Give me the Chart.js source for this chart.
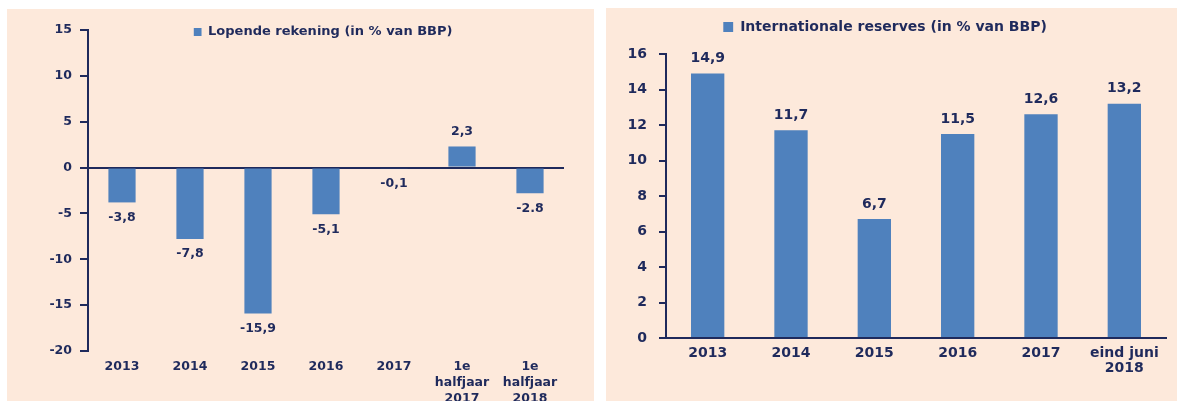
<!DOCTYPE html>
<html>
<head>
<meta charset="utf-8">
<script src="https://cdn.jsdelivr.net/npm/chart.js@4"></script>
<style>
  body { margin: 0; background: #fff; width: 1177px; height: 401px; overflow: hidden; position: relative; }
  .panel { position: absolute; background: #fde9db; }
  #paneelLinks { left: 7px; top: 9px; width: 587px; height: 392px; }
  #paneelRechts { left: 606px; top: 8px; width: 571px; height: 393px; }
</style>
</head>
<body>
<div class="panel" id="paneelLinks"><canvas id="lopende"></canvas></div>
<div class="panel" id="paneelRechts"><canvas id="reserves"></canvas></div>
<script>
// gegevens
const jarenLopende = ['2013', '2014', '2015', '2016', '2017', ['1e', 'halfjaar', '2017'], ['1e', 'halfjaar', '2018']];
const lopendeRekening = [-3.8, -7.8, -15.9, -5.1, -0.1, 2.3, -2.8];
const lopendeTeksten = ['-3,8', '-7,8', '-15,9', '-5,1', '-0,1', '2,3', '-2.8'];
const lopendeTicks = { min: -20, max: 15, stap: 5 };

const jarenReserves = ['2013', '2014', '2015', '2016', '2017', ['eind juni', '2018']];
const reserves = [14.9, 11.7, 6.7, 11.5, 12.6, 13.2];
const reservesTeksten = ['14,9', '11,7', '6,7', '11,5', '12,6', '13,2'];
const reservesTicks = { min: 0, max: 16, stap: 2 };

const blauw = '#4f81bd';
const navy = '#1f2a5c';

Chart.defaults.font.family = 'DejaVu Sans';
Chart.defaults.font.weight = 'bold';
Chart.defaults.color = navy;

// legenda op een vaste plek zetten (over de grafiek heen)
const legendaPlek = {
    id: 'legendaPlek',
    afterLayout(chart, args, opts) {
        const lg = chart.legend;
        if (!lg || !lg.legendHitBoxes || !lg.legendHitBoxes.length) return;
        const pad = lg.options.labels.padding;
        const item = lg.legendHitBoxes[0];
        lg.left = opts.x - item.width / 2 - pad;
        lg.right = lg.left + lg.width;
        lg.top = opts.y - item.height / 2 - pad;
        lg.bottom = lg.top + lg.height;
    }
};

// waarden bij de staven
const waardeLabels = {
    id: 'waardeLabels',
    afterDatasetsDraw(chart, args, opts) {
        const ctx = chart.ctx;
        const meta = chart.getDatasetMeta(0);
        const data = chart.data.datasets[0].data;
        ctx.save();
        ctx.font = 'bold ' + opts.size + 'px "DejaVu Sans"';
        ctx.fillStyle = navy;
        ctx.textAlign = 'center';
        ctx.textBaseline = 'middle';
        meta.data.forEach((bar, i) => {
            const dy = data[i] < 0 ? opts.afstand : -opts.afstand;
            ctx.fillText(opts.teksten[i], bar.x, bar.y + dy);
        });
        ctx.restore();
    }
};

function maakGrafiek(id, cfg) {
    return new Chart(document.getElementById(id), {
        type: 'bar',
        data: {
            labels: cfg.labels,
            datasets: [{
                label: cfg.titel,
                data: cfg.waarden,
                backgroundColor: blauw,
                borderWidth: 0,
                barPercentage: 0.4,
                categoryPercentage: 1
            }]
        },
        options: {
            responsive: true,
            maintainAspectRatio: false,
            animation: false,
            layout: { padding: cfg.padding },
            plugins: {
                tooltip: { enabled: false },
                legend: {
                    position: 'chartArea',
                    align: 'start',
                    labels: {
                        boxWidth: cfg.box,
                        boxHeight: cfg.box,
                        padding: 0,
                        color: navy,
                        font: { size: cfg.legendaFont, weight: 'bold' }
                    }
                },
                legendaPlek: cfg.legenda,
                waardeLabels: { teksten: cfg.teksten, afstand: cfg.afstand, size: cfg.font }
            },
            scales: {
                x: {
                    afterFit: s => { s.height = cfg.xHoogte; },
                    grid: { display: false, drawTicks: false },
                    border: { display: cfg.xLijn, color: navy, width: 2 },
                    ticks: {
                        color: navy,
                        padding: 8,
                        maxRotation: 0,
                        autoSkip: false,
                        font: { size: cfg.font, weight: 'bold', lineHeight: cfg.regel }
                    }
                },
                y: {
                    min: cfg.ticks.min,
                    max: cfg.ticks.max,
                    afterFit: s => { s.width = cfg.yBreedte; },
                    grid: {
                        color: c => (c.tick && c.tick.value === 0 && !cfg.xLijn) ? navy : 'rgba(0,0,0,0)',
                        lineWidth: 2,
                        tickColor: navy,
                        tickLength: cfg.tickLengte,
                        drawTicks: true
                    },
                    border: { color: navy, width: 2 },
                    ticks: {
                        stepSize: cfg.ticks.stap,
                        color: navy,
                        padding: cfg.tickPadding,
                        font: { size: cfg.font, weight: 'bold' }
                    }
                }
            }
        },
        plugins: [legendaPlek, waardeLabels]
    });
}

maakGrafiek('lopende', {
    labels: jarenLopende,
    titel: 'Lopende rekening (in % van BBP)',
    waarden: lopendeRekening,
    teksten: lopendeTeksten,
    ticks: lopendeTicks,
    padding: { left: 0, right: 30, top: 21, bottom: 0 },
    xHoogte: 50,
    yBreedte: 81,
    xLijn: false,
    font: 12.5,
    legendaFont: 13,
    regel: 1.28,
    box: 8,
    afstand: 15,
    tickLengte: 8,
    tickPadding: 8,
    legenda: { x: 316, y: 23 }
});

maakGrafiek('reserves', {
    labels: jarenReserves,
    titel: 'Internationale reserves (in % van BBP)',
    waarden: reserves,
    teksten: reservesTeksten,
    ticks: reservesTicks,
    padding: { left: 0, right: 11, top: 46, bottom: 0 },
    xHoogte: 63,
    yBreedte: 60,
    xLijn: true,
    font: 14,
    legendaFont: 14,
    regel: 1.07,
    box: 10,
    afstand: 15,
    tickLengte: 7,
    tickPadding: 12,
    legenda: { x: 279, y: 19 }
});
</script>
</body>
</html>
